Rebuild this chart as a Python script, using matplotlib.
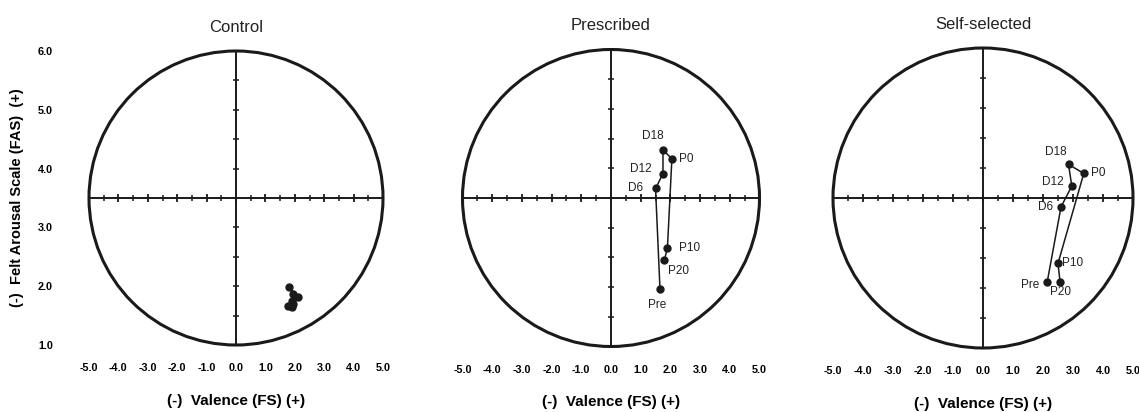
import numpy as np
import matplotlib
matplotlib.use('Agg')
import matplotlib.pyplot as plt
from matplotlib.patches import Ellipse

plt.rcParams['font.family'] = ['Liberation Sans', 'DejaVu Sans']

# data
stages = ['Pre', 'D6', 'D12', 'D18', 'P0', 'P10', 'P20']
titles = ['Control', 'Prescribed', 'Self-selected']

control_fs = [1.77, 1.92, 1.95, 1.80, 2.12, 1.95, 1.90]
control_fas = [1.66, 1.75, 1.87, 1.98, 1.82, 1.70, 1.65]
prescribed_fs = [1.65, 1.50, 1.75, 1.75, 2.05, 1.90, 1.80]
prescribed_fas = [1.96, 3.66, 3.91, 4.31, 4.16, 2.66, 2.46]
selfsel_fs = [2.14, 2.60, 2.96, 2.85, 3.36, 2.50, 2.57]
selfsel_fas = [2.10, 3.35, 3.70, 4.06, 3.91, 2.41, 2.10]

fs_ticks = np.arange(-5, 6)
fas_ticks = np.arange(1, 7)

# label placement (offset points, ha) for the two labelled panels
label_pos = {
    1: {'Pre': (-2, -11, 'center'), 'D6': (-9, 0, 'right'), 'D12': (-8, 3, 'right'),
        'D18': (-7, 10, 'center'), 'P0': (5, 0, 'left'), 'P10': (8, 0, 'left'),
        'P20': (10, -8, 'center')},
    2: {'Pre': (-6, -2, 'right'), 'D6': (-6, 0, 'right'), 'D12': (-6, 3, 'right'),
        'D18': (-9, 9, 'center'), 'P0': (5, 0, 'left'), 'P10': (3, 0, 'left'),
        'P20': (0, -7, 'center')},
}

W, H = 1139, 412
fig = plt.figure(figsize=(W / 100, H / 100), dpi=100)

centers = [236, 611, 983]
radii = [147, 148.5, 150]
cy = 198
xs = [control_fs, prescribed_fs, selfsel_fs]
ys = [control_fas, prescribed_fas, selfsel_fas]

for i in range(3):
    r = radii[i]
    ax = fig.add_axes([(centers[i] - r) / W, (H - cy - r) / H, 2 * r / W, 2 * r / H])
    ax.set_xlim(-5, 5)
    ax.set_ylim(1, 6)
    for s in ax.spines.values():
        s.set_visible(False)

    # circle + crosshair
    ax.add_patch(Ellipse((0, 3.5), 10, 5, fill=False, lw=2.2, color='#1a1a1a', clip_on=False))
    ax.plot([-5, 5], [3.5, 3.5], color='#1a1a1a', lw=1.4, clip_on=False)
    ax.plot([0, 0], [1, 6], color='#1a1a1a', lw=1.4, clip_on=False)
    ax.plot(fs_ticks, np.full(len(fs_ticks), 3.5), '|', color='#1a1a1a', ms=6, mew=1.3, clip_on=False)
    half = np.arange(-4.5, 5, 1.0)
    ax.plot(half, np.full(len(half), 3.5), '|', color='#1a1a1a', ms=4, mew=1.1, clip_on=False)
    vt = np.arange(1, 6.01, 0.5)
    ax.plot(np.zeros(len(vt)), vt, '_', color='#1a1a1a', ms=5, mew=1.1, clip_on=False)

    # data
    ax.plot(xs[i], ys[i], '-o', color='#1a1a1a', lw=1.1, ms=5, clip_on=False, zorder=5)
    if i in label_pos:
        for st, x, y in zip(stages, xs[i], ys[i]):
            dx, dy, ha = label_pos[i][st]
            ax.annotate(st, (x, y), xytext=(dx, dy), textcoords='offset points',
                        ha=ha, va='center', fontsize=8.5, color='#222222')

    ax.set_xticks(fs_ticks)
    ax.set_xticklabels(['%.1f' % v for v in fs_ticks], fontsize=7.8, fontweight='bold')
    ax.tick_params(axis='x', length=0, pad=13)
    if i == 0:
        ax.set_yticks(fas_ticks)
        ax.set_yticklabels(['%.1f' % v for v in fas_ticks], fontsize=7.8, fontweight='bold')
        ax.tick_params(axis='y', length=0, pad=26)
        ax.set_ylabel('(-)  Felt Arousal Scale (FAS)  (+)', fontsize=10.5, fontweight='bold', labelpad=10)
    else:
        ax.set_yticks([])
    ax.set_xlabel('(-)  Valence (FS) (+)', fontsize=11, fontweight='bold', labelpad=15)
    ax.set_title(titles[i], fontsize=12, pad=14, color='#222222')

plt.savefig('out.png', dpi=100)
plt.close()
